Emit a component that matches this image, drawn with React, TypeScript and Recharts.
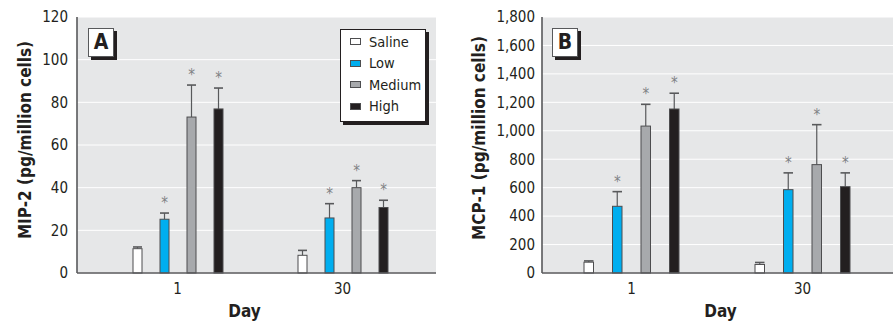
import React from 'react';
import { BarChart, Bar, XAxis, YAxis, CartesianGrid, Legend } from 'recharts';

const FONT = "'Liberation Sans Narrow', 'Arial Narrow', 'DejaVu Sans Condensed', sans-serif";
const INK = '#231F20';
const LINE = '#58595B';

const days = ['1', '30'];
const groups = ['Saline', 'Low', 'Medium', 'High'];
const groupColors = ['#FFFFFF', '#00AEEF', '#A7A9AC', '#231F20'];

// Panel A: MIP-2 (mean, upper error, significance)
const mip2Saline = [11.4, 8.3];
const mip2SalineErr = [0.8, 2.3];
const mip2Low = [25.2, 25.8];
const mip2LowErr = [2.9, 6.7];
const mip2Medium = [73.1, 40.0];
const mip2MediumErr = [15.0, 3.3];
const mip2High = [76.9, 30.7];
const mip2HighErr = [9.8, 3.4];
const mip2Ticks = [0, 20, 40, 60, 80, 100, 120];

// Panel B: MCP-1
const mcp1Saline = [76, 60];
const mcp1SalineErr = [9, 14];
const mcp1Low = [469, 586];
const mcp1LowErr = [103, 118];
const mcp1Medium = [1033, 762];
const mcp1MediumErr = [153, 281];
const mcp1High = [1153, 607];
const mcp1HighErr = [111, 97];
const mcp1Ticks = [0, 200, 400, 600, 800, 1000, 1200, 1400, 1600, 1800];

// asterisk shown for every treated group on both days, never for saline
const significant = [false, true, true, true];

const buildRows = (vals: number[][], errs: number[][]) =>
  days.map((day, i) => {
    const row: any = { day };
    groups.forEach((g, j) => {
      row[g] = vals[j][i];
      row[g + 'Err'] = errs[j][i];
      row[g + 'Sig'] = significant[j];
    });
    return row;
  });

const dataA = buildRows(
  [mip2Saline, mip2Low, mip2Medium, mip2High],
  [mip2SalineErr, mip2LowErr, mip2MediumErr, mip2HighErr]
);
const dataB = buildRows(
  [mcp1Saline, mcp1Low, mcp1Medium, mcp1High],
  [mcp1SalineErr, mcp1LowErr, mcp1MediumErr, mcp1HighErr]
);

// bar + upper whisker + asterisk, scaled from the bar's own pixel height
const makeShape = (key: string) => (props: any) => {
  const { x, y, width, height, fill, payload } = props;
  const v = payload[key];
  const k = v ? height / v : 0;
  const top = y - payload[key + 'Err'] * k;
  const cx = x + width / 2;
  return (
    <g>
      <line x1={cx} x2={cx} y1={y} y2={top} stroke={LINE} strokeWidth={1.2} />
      <line x1={x} x2={x + width} y1={top} y2={top} stroke={LINE} strokeWidth={1.6} />
      <rect x={x} y={y} width={width} height={height} fill={fill} stroke="#4D4D4F" strokeWidth={1} />
      {payload[key + 'Sig'] && (
        <text x={cx} y={top - 5} textAnchor="middle" fontSize={15} fill="#808285" fontFamily={FONT}>
          *
        </text>
      )}
    </g>
  );
};

const LegendBox = (props: any) => {
  const items = [...(props.payload || [])].sort(
    (a: any, b: any) => groups.indexOf(a.value) - groups.indexOf(b.value)
  );
  return (
    <div
      style={{
        width: 84,
        height: 90,
        border: `1px solid ${INK}`,
        boxShadow: `3px 3px 0 ${INK}`,
        background: '#fff',
        paddingTop: 1,
        fontFamily: FONT,
        fontSize: 14.5,
        color: INK,
      }}
    >
      {items.map((it: any) => (
        <div key={it.value} style={{ height: 21.5, display: 'flex', alignItems: 'center', paddingLeft: 9 }}>
          <span
            style={{
              width: 9,
              height: 5,
              background: it.color,
              border: '1px solid #4D4D4F',
              marginRight: 8,
              display: 'inline-block',
            }}
          />
          <span>{it.value}</span>
        </div>
      ))}
    </div>
  );
};

const PanelTag = ({ text, left }: { text: string; left: number }) => (
  <div
    style={{
      position: 'absolute',
      left,
      top: 28,
      width: 24,
      height: 27,
      border: `1px solid ${LINE}`,
      boxShadow: `3px 3px 0 ${INK}`,
      background: '#fff',
      fontFamily: FONT,
      fontWeight: 'bold',
      fontSize: 21,
      color: INK,
      textAlign: 'center',
      lineHeight: '27px',
    }}
  >
    {text}
  </div>
);

const tickStyle = { fontFamily: FONT, fontSize: 15, fill: INK };

interface PanelProps {
  data: any[];
  width: number;
  rightMargin: number;
  ticks: number[];
  yLabel: string;
  yWidth: number;
  yTickMargin: number;
  yLabelDx: number;
  yLabelDy: number;
  padLeft: number;
  padRight: number;
  barSize: number;
  barGap: number;
  dayDx: number;
  legend: boolean;
  fmt?: (v: number) => string;
}

const Panel = (p: PanelProps) => (
  <BarChart
    width={p.width}
    height={322}
    data={p.data}
    margin={{ top: 17, right: p.rightMargin, bottom: 0, left: 0 }}
    barSize={p.barSize}
    barGap={p.barGap}
  >
    <CartesianGrid vertical={false} stroke="#FFFFFF" strokeWidth={1} fill="#E6E7E8" />
    <XAxis
      dataKey="day"
      tickLine={false}
      tickSize={0}
      tickMargin={10}
      height={49}
      padding={{ left: p.padLeft, right: p.padRight }}
      axisLine={{ stroke: LINE, strokeWidth: 1.6 }}
      tick={tickStyle}
      label={{
        value: 'Day',
        position: 'insideBottom',
        offset: 5,
        dx: p.dayDx,
        style: { fontFamily: FONT, fontWeight: 'bold', fontSize: 17, fill: INK },
      }}
    />
    <YAxis
      width={p.yWidth}
      domain={[0, p.ticks[p.ticks.length - 1]]}
      ticks={p.ticks}
      interval={0}
      tickLine={false}
      tickSize={0}
      tickMargin={p.yTickMargin}
      tickFormatter={p.fmt}
      axisLine={{ stroke: LINE, strokeWidth: 1.6 }}
      tick={tickStyle}
      label={{
        value: p.yLabel,
        angle: -90,
        position: 'center',
        dx: p.yLabelDx,
        dy: p.yLabelDy,
        style: { fontFamily: FONT, fontWeight: 'bold', fontSize: 17, fill: INK, textAnchor: 'middle' },
      }}
    />
    {p.legend && (
      <Legend
        layout="vertical"
        align="center"
        verticalAlign="middle"
        content={<LegendBox />}
        wrapperStyle={{ position: 'absolute', left: 340, top: 29, width: 90, height: 96 }}
      />
    )}
    {groups.map((g, i) => (
      <Bar key={g} dataKey={g} fill={groupColors[i]} isAnimationActive={false} shape={makeShape(g)} />
    ))}
  </BarChart>
);

export default function App() {
  return (
    <div style={{ position: 'absolute', left: 0, top: 0, width: 893, height: 322, background: '#fff' }}>
      <div style={{ position: 'absolute', left: 0, top: 0 }}>
        <Panel
          data={dataA}
          width={450}
          rightMargin={14}
          ticks={mip2Ticks}
          yLabel="MIP-2 (pg/million cells)"
          yWidth={77}
          yTickMargin={9}
          yLabelDx={-13.5}
          yLabelDy={-5}
          padLeft={18}
          padRight={11}
          barSize={9}
          barGap={18}
          dayDx={-12}
          legend
        />
      </div>
      <div style={{ position: 'absolute', left: 450, top: 0 }}>
        <Panel
          data={dataB}
          width={443}
          rightMargin={0}
          ticks={mcp1Ticks}
          yLabel="MCP-1 (pg/million cells)"
          yWidth={92}
          yTickMargin={7}
          yLabelDx={-17}
          yLabelDy={-7}
          padLeft={4}
          padRight={5}
          barSize={9.5}
          barGap={19}
          dayDx={3}
          legend={false}
          fmt={(v: number) => v.toLocaleString('en-US')}
        />
      </div>
      <PanelTag text="A" left={88} />
      <PanelTag text="B" left={552} />
    </div>
  );
}
